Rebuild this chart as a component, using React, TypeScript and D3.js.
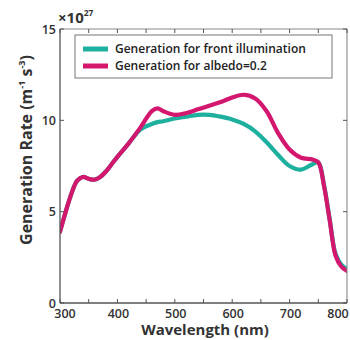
import React from 'react'
import * as d3 from 'd3'

const wavelengths = [300, 310, 320, 330, 340, 350, 360, 370, 380, 390, 400, 420, 440, 460, 470, 480, 500, 520, 540, 560, 580, 600, 620, 640, 660, 680, 700, 720, 740, 750, 760, 770, 780, 790, 800]
const albedo = [3.9, 5.0, 6.0, 6.7, 6.9, 6.8, 6.75, 6.9, 7.2, 7.6, 8.0, 8.75, 9.6, 10.5, 10.65, 10.5, 10.3, 10.4, 10.6, 10.8, 11.0, 11.25, 11.4, 11.2, 10.5, 9.3, 8.4, 7.95, 7.85, 7.7, 6.4, 4.5, 2.6, 2.0, 1.75]
const front = [3.9, 5.0, 6.0, 6.7, 6.9, 6.8, 6.75, 6.9, 7.2, 7.6, 8.0, 8.75, 9.5, 9.8, 9.9, 9.95, 10.1, 10.2, 10.3, 10.3, 10.2, 10.05, 9.8, 9.4, 8.8, 8.1, 7.5, 7.3, 7.6, 7.7, 6.45, 4.55, 2.7, 2.1, 1.85]
const xTicks = [300, 400, 500, 600, 700, 800]
const xMinor = [350, 450, 550, 650, 750]
const yTicks = [0, 5, 10, 15]
const legendLabels = ['Generation for front illumination', 'Generation for albedo=0.2']

const teal = '#1eb09e'
const magenta = '#d3166e'
const axisCol = '#555'
const font = "'Open Sans', sans-serif"

const x = d3.scaleLinear().domain([300, 800]).range([60, 347])
const y = d3.scaleLinear().domain([0, 15]).range([303, 29])

export default function App() {
  const line = (vals: number[]) =>
    d3.line<number>()
      .x((_, i) => x(wavelengths[i]))
      .y(d => y(d))
      .curve(d3.curveCatmullRom)(vals) as string

  const [x0, x1] = x.range()
  const [y0, y1] = y.range()

  // end labels sit slightly inward, as in the original figure
  const labelX = (t: number, i: number) =>
    i === 0 ? x(t) + 5 : i === xTicks.length - 1 ? x(t) - 9 : x(t) + 1

  return (
    <svg width={350} height={340} style={{ position: 'absolute', left: 0, top: 0, background: '#fff' }} fontFamily={font}>
      <defs>
        <clipPath id="plot">
          <rect x={x0} y={y1} width={x1 - x0} height={y0 - y1} />
        </clipPath>
      </defs>

      <g clipPath="url(#plot)" fill="none" strokeLinecap="round" strokeLinejoin="round">
        <path d={line(front)} stroke={teal} strokeWidth={4.2} />
        <path d={line(albedo)} stroke={magenta} strokeWidth={4.2} />
      </g>

      {/* frame */}
      <line x1={x0} x2={x1} y1={y1} y2={y1} stroke="#888" strokeWidth={1.1} />
      <line x1={x1} x2={x1} y1={y1} y2={y0} stroke="#888" strokeWidth={1.1} />
      <line x1={x0} x2={x0} y1={y1} y2={y0} stroke={axisCol} strokeWidth={1.3} />
      <line x1={x0} x2={x1} y1={y0} y2={y0} stroke={axisCol} strokeWidth={1.3} />

      {/* x ticks */}
      {[...xTicks, ...xMinor].map(t => (
        <g key={'x' + t} stroke={axisCol} strokeWidth={1}>
          <line x1={x(t)} x2={x(t)} y1={y0} y2={y0 - 4} />
          <line x1={x(t)} x2={x(t)} y1={y1} y2={y1 + 4} />
        </g>
      ))}
      {xTicks.map((t, i) => (
        <text key={'xl' + t} x={labelX(t, i)} y={y0 + 15} textAnchor="middle" fontSize={12.5} fontWeight={600} fill="#333">{t}</text>
      ))}

      {/* y ticks */}
      {yTicks.map(t => (
        <g key={'y' + t} stroke={axisCol} strokeWidth={1}>
          <line x1={x0} x2={x0 + 4} y1={y(t)} y2={y(t)} />
          <line x1={x1} x2={x1 - 4} y1={y(t)} y2={y(t)} />
        </g>
      ))}
      {yTicks.map(t => (
        <text key={'yl' + t} x={x0 - 4} y={y(t) + 4.5} textAnchor="end" fontSize={12.5} fontWeight={600} fill="#333">{t}</text>
      ))}

      {/* exponent */}
      <text x={58} y={23} fontSize={15} fontWeight={700} fill="#333">
        ×10<tspan dy={-7} fontSize={8.5}>27</tspan>
      </text>

      {/* axis titles */}
      <text x={205} y={335} textAnchor="middle" fontSize={15} fontWeight={700} fill="#333">Wavelength (nm)</text>
      <text transform="translate(32,150) rotate(-90)" textAnchor="middle" fontSize={16} fontWeight={700} fill="#333">
        Generation Rate (m<tspan dy={-7} fontSize={9}>-1</tspan><tspan dy={7}> s</tspan><tspan dy={-7} fontSize={9}>-3</tspan><tspan dy={7}>)</tspan>
      </text>

      {/* legend */}
      <rect x={75} y={35} width={257} height={43} fill="#fff" stroke="#777" strokeWidth={1} />
      {legendLabels.map((lab, i) => (
        <g key={lab}>
          <line x1={83} x2={108} y1={49 + i * 17} y2={49 + i * 17} stroke={i === 0 ? teal : magenta} strokeWidth={5} />
          <text x={115} y={53 + i * 17} fontSize={12} fontWeight={600} fill="#222">{lab}</text>
        </g>
      ))}
    </svg>
  )
}
